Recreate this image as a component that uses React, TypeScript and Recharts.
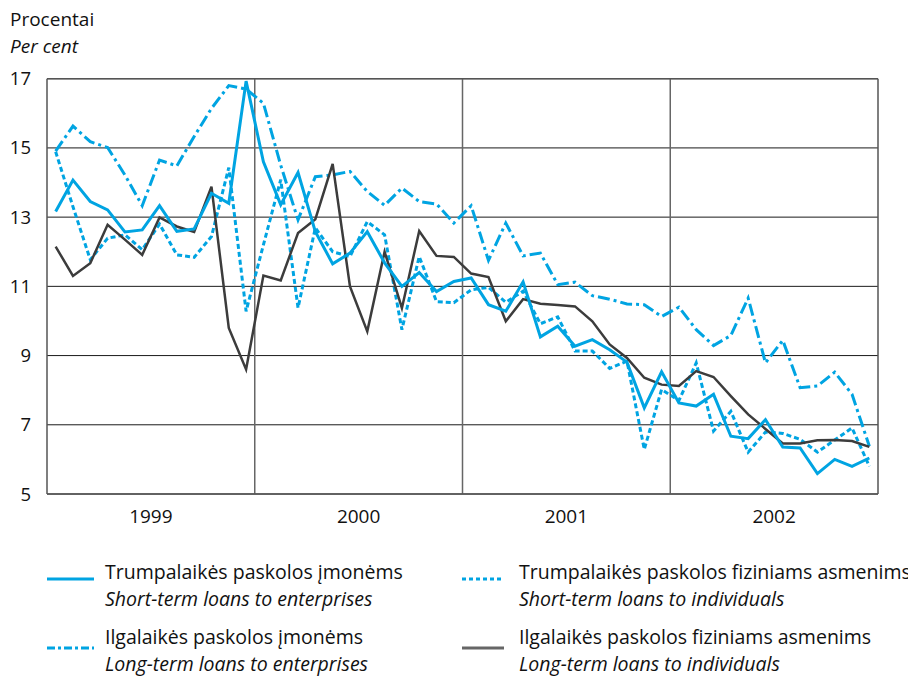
import React from "react";
import { LineChart, Line, XAxis, YAxis, CartesianGrid, ReferenceLine } from "recharts";

const years = ["1999", "2000", "2001", "2002"];
const yearTicks = [6, 18, 30, 42];
const yearBounds = [12, 24, 36];
const yTicks = [5, 7, 9, 11, 13, 15, 17];

// Trumpalaikės paskolos įmonėms / Short-term loans to enterprises
const shortEnt = [
  13.16, 14.07, 13.45, 13.21, 12.57, 12.63, 13.33, 12.59, 12.66, 13.69, 13.4, 16.93,
  14.6, 13.36, 14.29, 12.58, 11.65, 11.96, 12.58, 11.68, 11.0, 11.4, 10.85, 11.14,
  11.24, 10.47, 10.28, 11.13, 9.54, 9.85, 9.27, 9.46, 9.17, 8.81, 7.49, 8.53,
  7.63, 7.54, 7.88, 6.67, 6.6, 7.15, 6.36, 6.33, 5.59, 6.0, 5.8, 6.04,
];
// Trumpalaikės paskolos fiziniams asmenims / Short-term loans to individuals
const shortInd = [
  14.89, 13.3, 11.77, 12.39, 12.49, 12.06, 12.8, 11.91, 11.84, 12.44, 14.43, 10.28,
  12.2, 14.08, 10.38, 12.69, 12.0, 11.86, 12.87, 12.49, 9.75, 11.86, 10.56, 10.53,
  10.9, 10.97, 10.54, 10.86, 9.92, 10.12, 9.13, 9.13, 8.63, 8.84, 6.29, 8.02,
  7.7, 8.79, 6.82, 7.39, 6.21, 6.79, 6.75, 6.58, 6.21, 6.56, 6.91, 5.8,
];
// Ilgalaikės paskolos įmonėms / Long-term loans to enterprises
const longEnt = [
  14.91, 15.63, 15.18, 15.01, 14.22, 13.33, 14.65, 14.48, 15.33, 16.14, 16.8, 16.7,
  16.29, 14.5, 12.92, 14.17, 14.22, 14.32, 13.74, 13.34, 13.84, 13.45, 13.38, 12.83,
  13.33, 11.75, 12.83, 11.88, 11.96, 11.05, 11.12, 10.73, 10.63, 10.49, 10.47, 10.13,
  10.4, 9.75, 9.29, 9.58, 10.66, 8.79, 9.44, 8.07, 8.12, 8.52, 7.88, 6.38,
];
// Ilgalaikės paskolos fiziniams asmenims / Long-term loans to individuals
const longInd = [
  12.15, 11.3, 11.67, 12.78, 12.35, 11.91, 12.99, 12.73, 12.57, 13.88, 9.8, 8.6,
  11.31, 11.17, 12.54, 12.94, 14.54, 11.0, 9.7, 12.0, 10.37, 12.6, 11.88, 11.85,
  11.37, 11.27, 9.99, 10.63, 10.5, 10.46, 10.42, 9.99, 9.32, 8.93, 8.36, 8.16,
  8.12, 8.55, 8.38, 7.83, 7.3, 6.88, 6.46, 6.46, 6.55, 6.56, 6.53, 6.36,
];

const BLUE = "#00a4e2";
const GRAY = "#3c3c3c";
const FONT = "'Open Sans', sans-serif";

const data = shortEnt.map((v, i) => ({
  x: i + 0.5,
  shortEnt: v,
  shortInd: shortInd[i],
  longEnt: longEnt[i],
  longInd: longInd[i],
}));

const DASH = "5 3";
const DASHDOT = "12 4 3 4";

const legendItems = [
  { lt: "Trumpalaikės paskolos įmonėms", en: "Short-term loans to enterprises", color: BLUE, dash: undefined, w: 3, col: 0, row: 0 },
  { lt: "Trumpalaikės paskolos fiziniams asmenims", en: "Short-term loans to individuals", color: BLUE, dash: "4 3", w: 3, col: 1, row: 0 },
  { lt: "Ilgalaikės paskolos įmonėms", en: "Long-term loans to enterprises", color: BLUE, dash: "8 3 3 3", w: 3, col: 0, row: 1 },
  { lt: "Ilgalaikės paskolos fiziniams asmenims", en: "Long-term loans to individuals", color: "#666", dash: undefined, w: 3, col: 1, row: 1 },
];

const colX = [[39, 86, 97], [454, 496, 511]];
const rowY = [[564, 591, 571], [629, 656, 640]];

export default function App() {
  return (
    <div style={{ position: "relative", width: 900, height: 669, fontFamily: FONT, color: "#111" }}>
      <div style={{ position: "absolute", left: 2, top: 1, fontSize: 19, lineHeight: "20px" }}>Procentai</div>
      <div style={{ position: "absolute", left: 2, top: 28, fontSize: 19, lineHeight: "20px", fontStyle: "italic" }}>Per cent</div>
      <LineChart
        width={900}
        height={520}
        data={data}
        margin={{ top: 70.7, right: 30, left: 0, bottom: 4 }}
        style={{ position: "absolute", left: 0, top: 0 }}
      >
        <CartesianGrid vertical={false} stroke="#1a1a1a" strokeWidth={1} />
        <XAxis
          dataKey="x"
          type="number"
          domain={[0, 48]}
          ticks={yearTicks}
          tickFormatter={(v: number) => years[yearTicks.indexOf(v)] ?? ""}
          height={30}
          tickLine={false}
          tickSize={6}
          tickMargin={10}
          axisLine={{ stroke: "#555", strokeWidth: 1.5 }}
          tick={{ fill: "#111", fontSize: 19, fontFamily: FONT }}
          allowDataOverflow
        />
        <YAxis
          type="number"
          domain={[5, 17]}
          ticks={yTicks}
          width={39}
          tickLine={false}
          tickSize={6}
          tickMargin={10}
          axisLine={{ stroke: "#555", strokeWidth: 1.5 }}
          tick={{ fill: "#111", fontSize: 18.5, fontFamily: FONT }}
          allowDataOverflow
        />
        {yearBounds.map((b) => (
          <ReferenceLine key={b} x={b} stroke="#666" strokeWidth={1.5} />
        ))}
        <ReferenceLine x={48} stroke="#555" strokeWidth={1.5} />
        <ReferenceLine y={17} stroke="#555" strokeWidth={1.5} />
        <Line dataKey="longEnt" stroke={BLUE} strokeWidth={3} strokeDasharray={DASHDOT} dot={false} isAnimationActive={false} />
        <Line dataKey="shortInd" stroke={BLUE} strokeWidth={3} strokeDasharray={DASH} dot={false} isAnimationActive={false} />
        <Line dataKey="longInd" stroke={GRAY} strokeWidth={2.5} dot={false} isAnimationActive={false} />
        <Line dataKey="shortEnt" stroke={BLUE} strokeWidth={3} dot={false} isAnimationActive={false} />
      </LineChart>
      {legendItems.map((it, k) => {
        const [sx1, sx2, tx] = colX[it.col];
        const [ty1, ty2, sy] = rowY[it.row];
        return (
          <React.Fragment key={k}>
            <svg style={{ position: "absolute", left: sx1, top: sy - 3 }} width={sx2 - sx1} height={6}>
              <line x1={0} y1={3} x2={sx2 - sx1} y2={3} stroke={it.color} strokeWidth={it.w} strokeDasharray={it.dash} />
            </svg>
            <div style={{ position: "absolute", left: tx, top: ty1 - 10, fontSize: 19.5, lineHeight: "20px", whiteSpace: "nowrap" }}>{it.lt}</div>
            <div style={{ position: "absolute", left: tx, top: ty2 - 10, fontSize: 19.5, lineHeight: "20px", whiteSpace: "nowrap", fontStyle: "italic" }}>{it.en}</div>
          </React.Fragment>
        );
      })}
    </div>
  );
}
